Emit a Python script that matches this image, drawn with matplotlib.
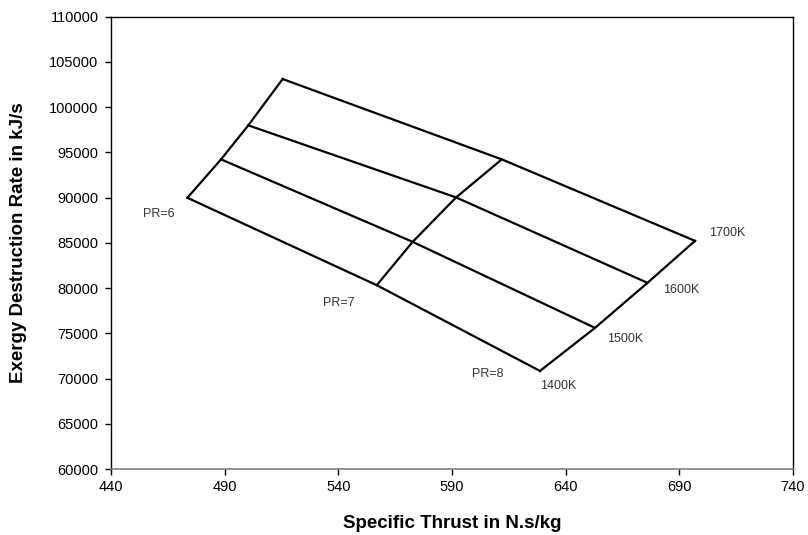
import matplotlib
matplotlib.use("Agg")
import matplotlib.pyplot as plt

plt.rcParams['font.family'] = ['Liberation Sans', 'DejaVu Sans']

# Carpet plot: turbine inlet temperature lines vs compressor pressure ratio
pressure_ratios = [6, 7, 8]
temperatures = ["1400K", "1500K", "1600K", "1700K"]

# Specific thrust (N.s/kg) at PR = 6, 7, 8 for each temperature
thrust_1400 = [473.6, 556.9, 628.7]
thrust_1500 = [488.4, 572.7, 652.9]
thrust_1600 = [500.4, 591.8, 676.0]
thrust_1700 = [515.5, 611.9, 696.9]

# Exergy destruction rate (kJ/s) at PR = 6, 7, 8 for each temperature
exergy_1400 = [89980, 80320, 70840]
exergy_1500 = [94230, 85110, 75600]
exergy_1600 = [97990, 90020, 80580]
exergy_1700 = [103110, 94230, 85220]

thrust = [thrust_1400, thrust_1500, thrust_1600, thrust_1700]
exergy = [exergy_1400, exergy_1500, exergy_1600, exergy_1700]

fig = plt.figure(figsize=(8.08, 5.35), dpi=100)
ax = fig.add_axes([111/808, 1 - 469/535, (793 - 111)/808, (469 - 16.7)/535])

lw = 1.6
# constant-temperature lines
for xs, ys in zip(thrust, exergy):
    ax.plot(xs, ys, color='black', lw=lw, solid_joinstyle='round')
# constant-pressure-ratio lines
for j in range(len(pressure_ratios)):
    ax.plot([t[j] for t in thrust], [e[j] for e in exergy],
            color='black', lw=lw, solid_joinstyle='round')

lab_col = '#333333'
# temperature labels at the PR=8 end
temp_offsets = [(0, -11, 'left'), (9, -8, 'left'), (11, -5, 'left'), (10, 6, 'left')]
for name, xs, ys, (dx, dy, ha) in zip(temperatures, thrust, exergy, temp_offsets):
    ax.annotate(name, (xs[-1], ys[-1]), xytext=(dx, dy), textcoords='offset points',
                ha=ha, va='center', fontsize=9, color=lab_col)

# pressure ratio labels along the 1400K line
pr_offsets = [(-9, -12), (-16, -13), (-26, -2)]
for j, (pr, (dx, dy)) in enumerate(zip(pressure_ratios, pr_offsets)):
    ax.annotate(f"PR={pr}", (thrust_1400[j], exergy_1400[j]), xytext=(dx, dy),
                textcoords='offset points', ha='right', va='center',
                fontsize=9, color=lab_col)

ax.set_xlim(440, 740)
ax.set_ylim(60000, 110000)
ax.set_xticks(range(440, 741, 50))
ax.set_yticks(range(60000, 110001, 5000))
ax.tick_params(axis='both', direction='out', length=4, width=1, labelsize=10.5,
               colors='black')
ax.tick_params(axis='y', pad=5)
ax.tick_params(axis='x', pad=4)
for side in ['left', 'right', 'top']:
    ax.spines[side].set_color('black')
    ax.spines[side].set_linewidth(1.0)
ax.spines['bottom'].set_color('#808080')
ax.spines['bottom'].set_linewidth(1.2)

ax.set_xlabel("Specific Thrust in N.s/kg", fontsize=13.5, fontweight='bold', labelpad=15)
ax.set_ylabel("Exergy Destruction Rate in kJ/s", fontsize=13.5, fontweight='bold', labelpad=16)

fig.savefig("out.png", dpi=100, facecolor='white')
